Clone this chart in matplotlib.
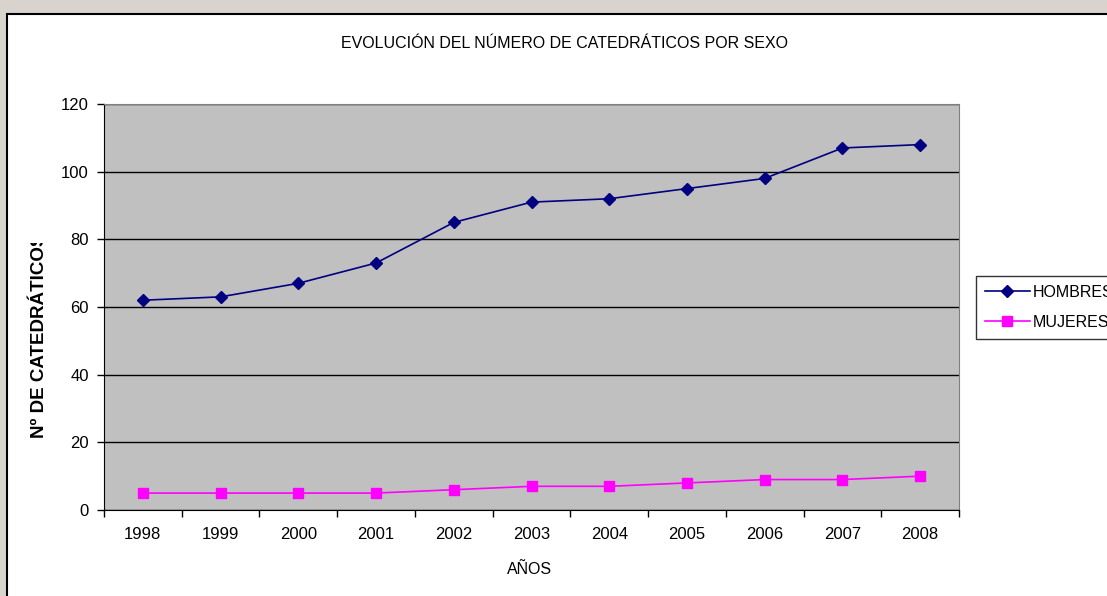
import matplotlib.pyplot as plt
from matplotlib.patches import Rectangle
from matplotlib.transforms import Bbox

plt.rcParams['font.family'] = ['Liberation Sans', 'DejaVu Sans']

years = ['1998', '1999', '2000', '2001', '2002', '2003', '2004', '2005', '2006', '2007', '2008']
hombres = [62, 63, 67, 73, 85, 91, 92, 95, 98, 107, 108]
mujeres = [5, 5, 5, 5, 6, 7, 7, 8, 9, 9, 10]

W, H = 1107, 596
fig = plt.figure(figsize=(W / 100, H / 100), dpi=100)
fig.patch.set_facecolor('#d9d3ce')

# white chart panel with black border (runs off the right/bottom edge)
panel = Rectangle((7 / W, -0.05), 1.2, 1 - 14 / H + 0.05, transform=fig.transFigure,
                  facecolor='white', edgecolor='black', lw=1.5, zorder=0)
fig.add_artist(panel)

ax = fig.add_axes([104 / W, 1 - 510 / H, (959 - 104) / W, (510 - 104) / H])
ax.set_facecolor('#c0c0c0')
x = range(len(years))
ax.plot(x, hombres, color='#000080', marker='D', markersize=6.5, lw=1.2, label='HOMBRES', zorder=3)
ax.plot(x, mujeres, color='#ff00ff', marker='s', markersize=7, lw=1.2, label='MUJERES', zorder=3)

ax.set_xlim(-0.5, len(years) - 0.5)
ax.set_ylim(0, 120)
ax.set_yticks(range(0, 121, 20))
ax.yaxis.grid(True, color='black', lw=1)
ax.set_axisbelow(True)

ax.set_xticks([i - 0.5 for i in range(len(years) + 1)])
ax.set_xticklabels([])
ax.set_xticks(list(x), minor=True)
ax.set_xticklabels(years, minor=True)
ax.tick_params(axis='x', which='major', direction='out', length=5, width=1)
ax.tick_params(axis='x', which='minor', length=0, pad=12, labelsize=12)
ax.tick_params(axis='y', direction='out', length=5, width=1, pad=6, labelsize=12)

for s in ['top', 'right']:
    ax.spines[s].set_color('#808080')
for s in ['left', 'bottom']:
    ax.spines[s].set_color('black')

fig.text(0.510, 1 - 43 / H, 'EVOLUCIÓN DEL NÚMERO DE CATEDRÁTICOS POR SEXO',
         ha='center', va='center', fontsize=11.5)
fig.text(530 / W, 1 - 570 / H, 'AÑOS', ha='center', va='center', fontsize=11.5)

ylab = fig.text(40 / W, 1 - 438 / H, 'Nº DE CATEDRÁTICOS', rotation=90,
                ha='center', va='bottom', fontsize=13.5, fontweight='bold')
ylab.set_clip_box(Bbox.from_extents(0, 0, W, H - 243))
ylab.set_clip_on(True)

leg = fig.legend(loc='upper left', bbox_to_anchor=(976 / W, 1 - 276 / H), borderaxespad=0,
                 fontsize=11.5, frameon=True, fancybox=False, handlelength=2.8,
                 handletextpad=0.2, borderpad=0.55, labelspacing=0.95)
leg.get_frame().set_edgecolor('black')
leg.get_frame().set_linewidth(1)

fig.savefig('out.png', dpi=100, facecolor=fig.get_facecolor())
